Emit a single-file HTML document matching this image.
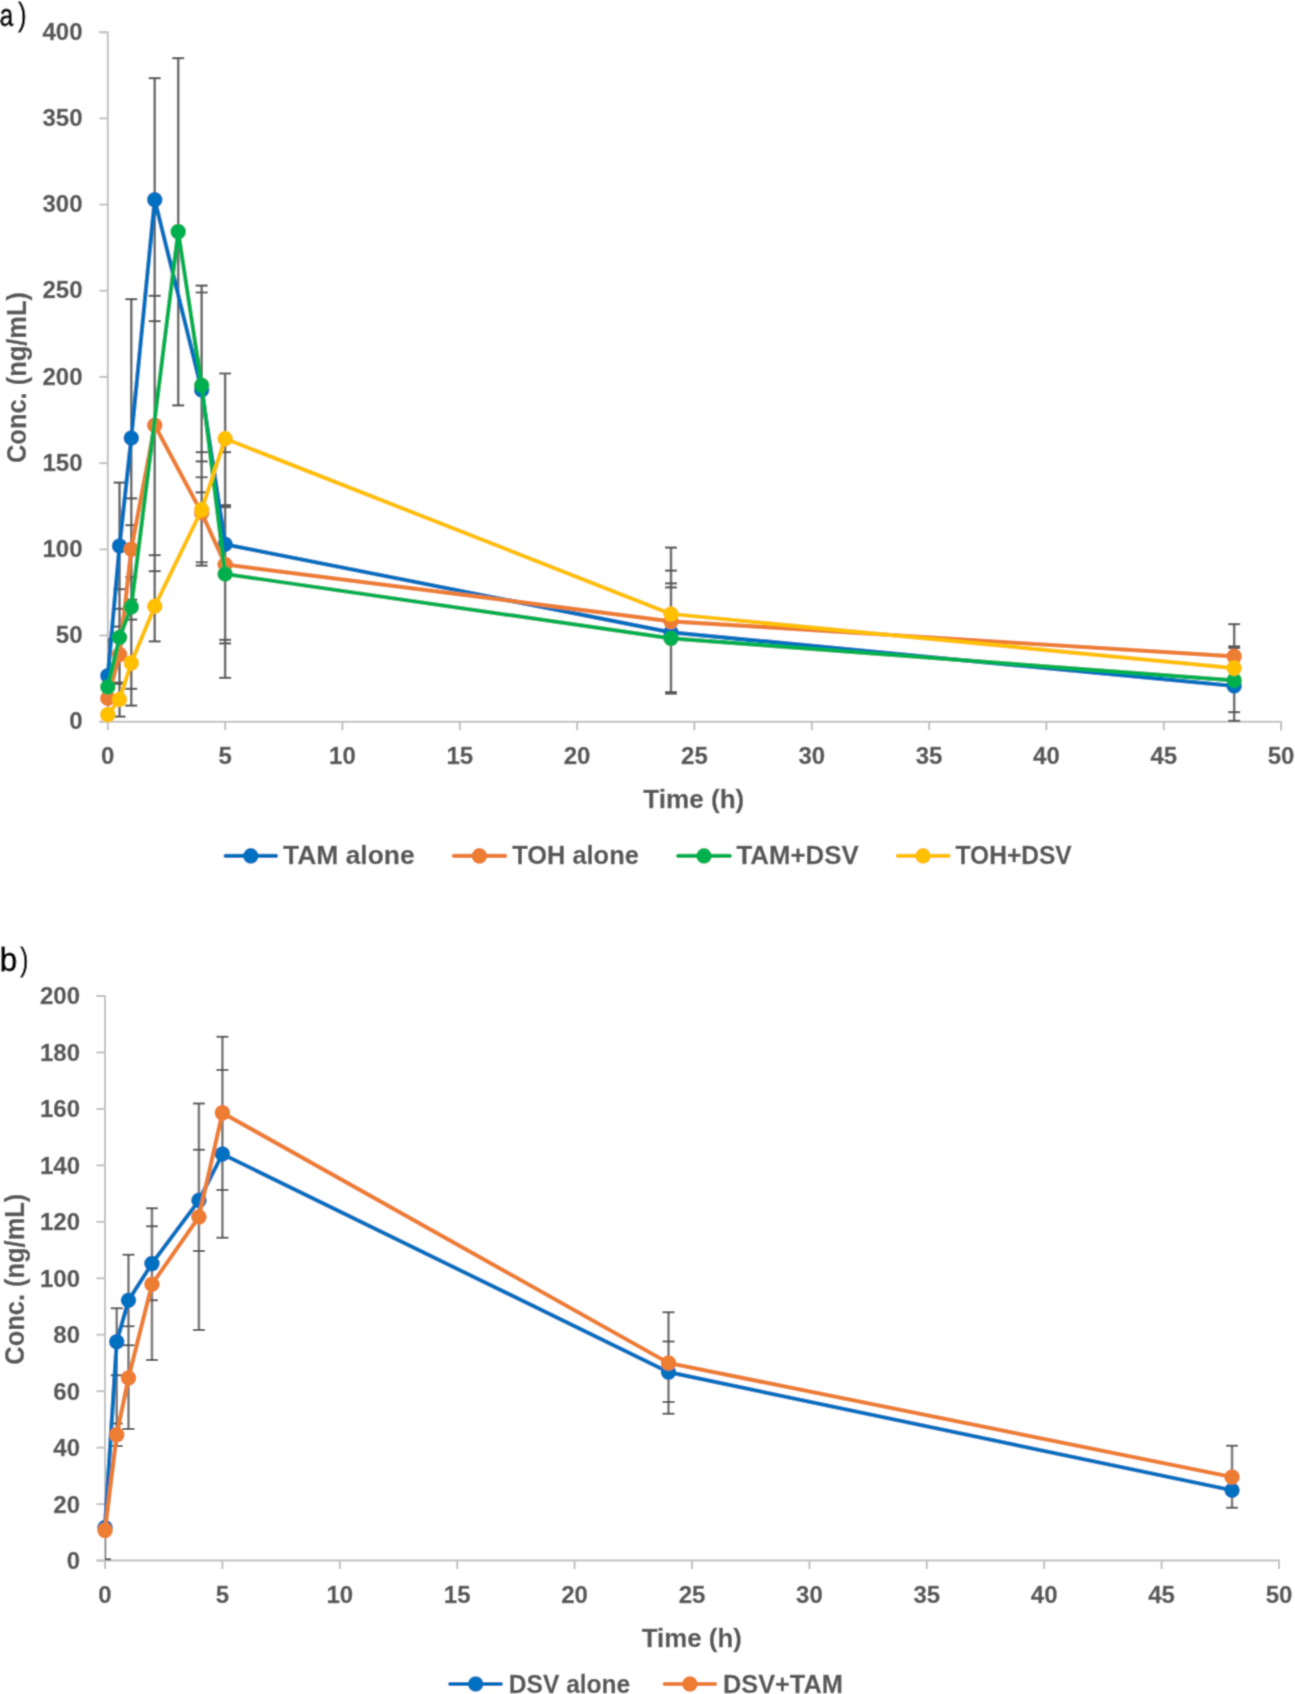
<!DOCTYPE html>
<html><head><meta charset="utf-8"><title>PK chart</title>
<style>
html,body{margin:0;padding:0;background:#fff;}
body{width:1295px;height:1694px;overflow:hidden;}
svg{display:block;}
.wrap{width:1295px;height:1694px;}
text{font-family:"Liberation Sans",sans-serif;}
.tk{font-size:24px;font-weight:bold;fill:#595959;stroke:#595959;stroke-width:0.35px;}
.at{font-size:26.5px;font-weight:bold;fill:#595959;stroke:#595959;stroke-width:0.3px;}
.lg{font-size:25px;font-weight:bold;fill:#595959;stroke:#595959;stroke-width:0.3px;}
.pl{font-size:33px;fill:#000;stroke:#000;stroke-width:0.9px;}
</style></head>
<body>
<div class="wrap">
<svg width="1295" height="1694" viewBox="0 0 1295 1694">
<defs>
<filter id="bl" x="0" y="0" width="1295" height="1694" filterUnits="userSpaceOnUse"><feConvolveMatrix order="3" kernelMatrix="0.0324 0.1152 0.0324 0.1152 0.4096 0.1152 0.0324 0.1152 0.0324" divisor="1" edgeMode="duplicate" preserveAlpha="true"/></filter>
<clipPath id="clipa"><rect x="107.8" y="0" width="1200" height="722.7"/></clipPath>
<clipPath id="clipb"><rect x="105.0" y="900" width="1200" height="661.5999999999999"/></clipPath>
</defs>
<g filter="url(#bl)">
<rect width="1295" height="1694" fill="#fff"/>
<text x="-0.3" y="26.2" class="pl" style="font-size:31px" textLength="13.4" lengthAdjust="spacingAndGlyphs">a</text>
<text x="18.3" y="24.7" class="pl" style="font-size:31.5px" textLength="8.3" lengthAdjust="spacingAndGlyphs">)</text>
<path d="M99.3 32.2H107.8V721.7" stroke="#C2C2C2" stroke-width="2" fill="none" stroke-linejoin="round"/>
<path d="M99.3 721.7H1281.1V730.2" stroke="#C2C2C2" stroke-width="2" fill="none" stroke-linejoin="round"/>
<path d="M99.3 721.7H107.8" stroke="#C2C2C2" stroke-width="2"/>
<text x="82.5" y="729.3" text-anchor="end" class="tk">0</text>
<path d="M99.3 635.51H107.8" stroke="#C2C2C2" stroke-width="2"/>
<text x="82.5" y="643.11" text-anchor="end" class="tk">50</text>
<path d="M99.3 549.33H107.8" stroke="#C2C2C2" stroke-width="2"/>
<text x="82.5" y="556.93" text-anchor="end" class="tk">100</text>
<path d="M99.3 463.14H107.8" stroke="#C2C2C2" stroke-width="2"/>
<text x="82.5" y="470.74" text-anchor="end" class="tk">150</text>
<path d="M99.3 376.95H107.8" stroke="#C2C2C2" stroke-width="2"/>
<text x="82.5" y="384.55" text-anchor="end" class="tk">200</text>
<path d="M99.3 290.76H107.8" stroke="#C2C2C2" stroke-width="2"/>
<text x="82.5" y="298.36" text-anchor="end" class="tk">250</text>
<path d="M99.3 204.58H107.8" stroke="#C2C2C2" stroke-width="2"/>
<text x="82.5" y="212.18" text-anchor="end" class="tk">300</text>
<path d="M99.3 118.39H107.8" stroke="#C2C2C2" stroke-width="2"/>
<text x="82.5" y="125.99" text-anchor="end" class="tk">350</text>
<path d="M99.3 32.2H107.8" stroke="#C2C2C2" stroke-width="2"/>
<text x="82.5" y="39.8" text-anchor="end" class="tk">400</text>
<path d="M107.8 721.7V730.2" stroke="#C2C2C2" stroke-width="2"/>
<text x="107.8" y="764.1" text-anchor="middle" class="tk">0</text>
<path d="M225.13 721.7V730.2" stroke="#C2C2C2" stroke-width="2"/>
<text x="225.13" y="764.1" text-anchor="middle" class="tk">5</text>
<path d="M342.46 721.7V730.2" stroke="#C2C2C2" stroke-width="2"/>
<text x="342.46" y="764.1" text-anchor="middle" class="tk">10</text>
<path d="M459.79 721.7V730.2" stroke="#C2C2C2" stroke-width="2"/>
<text x="459.79" y="764.1" text-anchor="middle" class="tk">15</text>
<path d="M577.12 721.7V730.2" stroke="#C2C2C2" stroke-width="2"/>
<text x="577.12" y="764.1" text-anchor="middle" class="tk">20</text>
<path d="M694.45 721.7V730.2" stroke="#C2C2C2" stroke-width="2"/>
<text x="694.45" y="764.1" text-anchor="middle" class="tk">25</text>
<path d="M811.78 721.7V730.2" stroke="#C2C2C2" stroke-width="2"/>
<text x="811.78" y="764.1" text-anchor="middle" class="tk">30</text>
<path d="M929.11 721.7V730.2" stroke="#C2C2C2" stroke-width="2"/>
<text x="929.11" y="764.1" text-anchor="middle" class="tk">35</text>
<path d="M1046.44 721.7V730.2" stroke="#C2C2C2" stroke-width="2"/>
<text x="1046.44" y="764.1" text-anchor="middle" class="tk">40</text>
<path d="M1163.77 721.7V730.2" stroke="#C2C2C2" stroke-width="2"/>
<text x="1163.77" y="764.1" text-anchor="middle" class="tk">45</text>
<path d="M1281.1 721.7V730.2" stroke="#C2C2C2" stroke-width="2"/>
<text x="1281.1" y="764.1" text-anchor="middle" class="tk">50</text>
<text x="693.8" y="807.6" class="at" text-anchor="middle" textLength="101" lengthAdjust="spacingAndGlyphs">Time (h)</text>
<text transform="translate(26.4 377.5) rotate(-90)" x="0" y="0" class="at" style="font-size:27.5px" text-anchor="middle" textLength="171" lengthAdjust="spacingAndGlyphs">Conc. (ng/mL)</text>
<g clip-path="url(#clipa)">
<path d="M107.8 711.87V639.3" stroke="#6C6C6C" stroke-width="2.6"/>
<path d="M101.8 639.3H113.8" stroke="#5A5A5A" stroke-width="2.2"/>
<path d="M101.8 711.87H113.8" stroke="#5A5A5A" stroke-width="2.2"/>
<path d="M119.53 716.53V482.62" stroke="#6C6C6C" stroke-width="2.6"/>
<path d="M113.53 482.62H125.53" stroke="#5A5A5A" stroke-width="2.2"/>
<path d="M113.53 589.14H125.53" stroke="#5A5A5A" stroke-width="2.2"/>
<path d="M113.53 608.97H125.53" stroke="#5A5A5A" stroke-width="2.2"/>
<path d="M113.53 626.55H125.53" stroke="#5A5A5A" stroke-width="2.2"/>
<path d="M113.53 682.57H125.53" stroke="#5A5A5A" stroke-width="2.2"/>
<path d="M113.53 683.95H125.53" stroke="#5A5A5A" stroke-width="2.2"/>
<path d="M113.53 716.53H125.53" stroke="#5A5A5A" stroke-width="2.2"/>
<path d="M131.27 705.67V299.21" stroke="#6C6C6C" stroke-width="2.6"/>
<path d="M125.27 299.21H137.27" stroke="#5A5A5A" stroke-width="2.2"/>
<path d="M125.27 498.47H137.27" stroke="#5A5A5A" stroke-width="2.2"/>
<path d="M125.27 525.19H137.27" stroke="#5A5A5A" stroke-width="2.2"/>
<path d="M125.27 577.08H137.27" stroke="#5A5A5A" stroke-width="2.2"/>
<path d="M125.27 599.66H137.27" stroke="#5A5A5A" stroke-width="2.2"/>
<path d="M125.27 619.65H137.27" stroke="#5A5A5A" stroke-width="2.2"/>
<path d="M125.27 688.95H137.27" stroke="#5A5A5A" stroke-width="2.2"/>
<path d="M125.27 705.67H137.27" stroke="#5A5A5A" stroke-width="2.2"/>
<path d="M154.73 641.37V78.22" stroke="#6C6C6C" stroke-width="2.6"/>
<path d="M148.73 78.22H160.73" stroke="#5A5A5A" stroke-width="2.2"/>
<path d="M148.73 295.93H160.73" stroke="#5A5A5A" stroke-width="2.2"/>
<path d="M148.73 321.1H160.73" stroke="#5A5A5A" stroke-width="2.2"/>
<path d="M148.73 555.19H160.73" stroke="#5A5A5A" stroke-width="2.2"/>
<path d="M148.73 571.04H160.73" stroke="#5A5A5A" stroke-width="2.2"/>
<path d="M148.73 641.37H160.73" stroke="#5A5A5A" stroke-width="2.2"/>
<path d="M178.2 405.39V58.06" stroke="#6C6C6C" stroke-width="2.6"/>
<path d="M172.2 58.06H184.2" stroke="#5A5A5A" stroke-width="2.2"/>
<path d="M172.2 405.39H184.2" stroke="#5A5A5A" stroke-width="2.2"/>
<path d="M201.66 565.53V285.59" stroke="#6C6C6C" stroke-width="2.6"/>
<path d="M195.66 285.59H207.66" stroke="#5A5A5A" stroke-width="2.2"/>
<path d="M195.66 292.49H207.66" stroke="#5A5A5A" stroke-width="2.2"/>
<path d="M195.66 452.11H207.66" stroke="#5A5A5A" stroke-width="2.2"/>
<path d="M195.66 461.41H207.66" stroke="#5A5A5A" stroke-width="2.2"/>
<path d="M195.66 477.27H207.66" stroke="#5A5A5A" stroke-width="2.2"/>
<path d="M195.66 492.44H207.66" stroke="#5A5A5A" stroke-width="2.2"/>
<path d="M195.66 562.25H207.66" stroke="#5A5A5A" stroke-width="2.2"/>
<path d="M195.66 565.53H207.66" stroke="#5A5A5A" stroke-width="2.2"/>
<path d="M225.13 677.92V373.5" stroke="#6C6C6C" stroke-width="2.6"/>
<path d="M219.13 373.5H231.13" stroke="#5A5A5A" stroke-width="2.2"/>
<path d="M219.13 452.11H231.13" stroke="#5A5A5A" stroke-width="2.2"/>
<path d="M219.13 505.02H231.13" stroke="#5A5A5A" stroke-width="2.2"/>
<path d="M219.13 507.09H231.13" stroke="#5A5A5A" stroke-width="2.2"/>
<path d="M219.13 639.82H231.13" stroke="#5A5A5A" stroke-width="2.2"/>
<path d="M219.13 643.44H231.13" stroke="#5A5A5A" stroke-width="2.2"/>
<path d="M219.13 677.92H231.13" stroke="#5A5A5A" stroke-width="2.2"/>
<path d="M670.98 693.6V547.6" stroke="#6C6C6C" stroke-width="2.6"/>
<path d="M664.98 547.6H676.98" stroke="#5A5A5A" stroke-width="2.2"/>
<path d="M664.98 570.7H676.98" stroke="#5A5A5A" stroke-width="2.2"/>
<path d="M664.98 583.28H676.98" stroke="#5A5A5A" stroke-width="2.2"/>
<path d="M664.98 587.42H676.98" stroke="#5A5A5A" stroke-width="2.2"/>
<path d="M664.98 692.05H676.98" stroke="#5A5A5A" stroke-width="2.2"/>
<path d="M664.98 693.6H676.98" stroke="#5A5A5A" stroke-width="2.2"/>
<path d="M1234.17 720.84V624.14" stroke="#6C6C6C" stroke-width="2.6"/>
<path d="M1228.17 624.14H1240.17" stroke="#5A5A5A" stroke-width="2.2"/>
<path d="M1228.17 646.37H1240.17" stroke="#5A5A5A" stroke-width="2.2"/>
<path d="M1228.17 647.92H1240.17" stroke="#5A5A5A" stroke-width="2.2"/>
<path d="M1228.17 712.05H1240.17" stroke="#5A5A5A" stroke-width="2.2"/>
<path d="M1228.17 720.84H1240.17" stroke="#5A5A5A" stroke-width="2.2"/>
</g>
<path d="M107.8 675.68 L119.53 546.05 L131.27 437.97 L154.73 199.75 L201.66 389.88 L225.13 544.33 L670.98 632.41 L1234.17 686.02" stroke="#0070C0" stroke-width="4.2" fill="none" stroke-linejoin="round" stroke-linecap="round"/>
<circle cx="107.8" cy="675.68" r="7.8" fill="#0070C0"/>
<circle cx="119.53" cy="546.05" r="7.8" fill="#0070C0"/>
<circle cx="131.27" cy="437.97" r="7.8" fill="#0070C0"/>
<circle cx="154.73" cy="199.75" r="7.8" fill="#0070C0"/>
<circle cx="201.66" cy="389.88" r="7.8" fill="#0070C0"/>
<circle cx="225.13" cy="544.33" r="7.8" fill="#0070C0"/>
<circle cx="670.98" cy="632.41" r="7.8" fill="#0070C0"/>
<circle cx="1234.17" cy="686.02" r="7.8" fill="#0070C0"/>
<path d="M107.8 698.26 L119.53 654.47 L131.27 549.33 L154.73 425.22 L201.66 512.78 L225.13 564.49 L670.98 621.38 L1234.17 656.37" stroke="#ED7D31" stroke-width="4.2" fill="none" stroke-linejoin="round" stroke-linecap="round"/>
<circle cx="107.8" cy="698.26" r="7.8" fill="#ED7D31"/>
<circle cx="119.53" cy="654.47" r="7.8" fill="#ED7D31"/>
<circle cx="131.27" cy="549.33" r="7.8" fill="#ED7D31"/>
<circle cx="154.73" cy="425.22" r="7.8" fill="#ED7D31"/>
<circle cx="201.66" cy="512.78" r="7.8" fill="#ED7D31"/>
<circle cx="225.13" cy="564.49" r="7.8" fill="#ED7D31"/>
<circle cx="670.98" cy="621.38" r="7.8" fill="#ED7D31"/>
<circle cx="1234.17" cy="656.37" r="7.8" fill="#ED7D31"/>
<path d="M107.8 687.05 L119.53 637.41 L131.27 606.9 L178.2 231.64 L201.66 385.22 L225.13 573.97 L670.98 638.44 L1234.17 680.33" stroke="#00B050" stroke-width="4.2" fill="none" stroke-linejoin="round" stroke-linecap="round"/>
<circle cx="107.8" cy="687.05" r="7.8" fill="#00B050"/>
<circle cx="119.53" cy="637.41" r="7.8" fill="#00B050"/>
<circle cx="131.27" cy="606.9" r="7.8" fill="#00B050"/>
<circle cx="178.2" cy="231.64" r="7.8" fill="#00B050"/>
<circle cx="201.66" cy="385.22" r="7.8" fill="#00B050"/>
<circle cx="225.13" cy="573.97" r="7.8" fill="#00B050"/>
<circle cx="670.98" cy="638.44" r="7.8" fill="#00B050"/>
<circle cx="1234.17" cy="680.33" r="7.8" fill="#00B050"/>
<path d="M107.8 714.63 L119.53 699.46 L131.27 662.92 L154.73 606.21 L201.66 509.85 L225.13 438.66 L670.98 613.97 L1234.17 668.09" stroke="#FFC000" stroke-width="4.2" fill="none" stroke-linejoin="round" stroke-linecap="round"/>
<circle cx="107.8" cy="714.63" r="7.8" fill="#FFC000"/>
<circle cx="119.53" cy="699.46" r="7.8" fill="#FFC000"/>
<circle cx="131.27" cy="662.92" r="7.8" fill="#FFC000"/>
<circle cx="154.73" cy="606.21" r="7.8" fill="#FFC000"/>
<circle cx="201.66" cy="509.85" r="7.8" fill="#FFC000"/>
<circle cx="225.13" cy="438.66" r="7.8" fill="#FFC000"/>
<circle cx="670.98" cy="613.97" r="7.8" fill="#FFC000"/>
<circle cx="1234.17" cy="668.09" r="7.8" fill="#FFC000"/>
<path d="M225.6 855.9H276" stroke="#0070C0" stroke-width="4.2" stroke-linecap="round"/>
<circle cx="250.8" cy="855.9" r="7.8" fill="#0070C0"/>
<text x="283" y="864.4" class="lg" textLength="131.7" lengthAdjust="spacingAndGlyphs">TAM alone</text>
<path d="M453.9 855.9H505.1" stroke="#ED7D31" stroke-width="4.2" stroke-linecap="round"/>
<circle cx="479.4" cy="855.9" r="7.8" fill="#ED7D31"/>
<text x="512.2" y="864.4" class="lg" textLength="126.6" lengthAdjust="spacingAndGlyphs">TOH alone</text>
<path d="M678.2 855.9H729.8" stroke="#00B050" stroke-width="4.2" stroke-linecap="round"/>
<circle cx="704" cy="855.9" r="7.8" fill="#00B050"/>
<text x="736.4" y="864.4" class="lg" textLength="122.3" lengthAdjust="spacingAndGlyphs">TAM+DSV</text>
<path d="M897.8 855.9H948.5" stroke="#FFC000" stroke-width="4.2" stroke-linecap="round"/>
<circle cx="923" cy="855.9" r="7.8" fill="#FFC000"/>
<text x="955.5" y="864.4" class="lg" textLength="116.2" lengthAdjust="spacingAndGlyphs">TOH+DSV</text>
<text x="-0.2" y="971" class="pl" textLength="17.5" lengthAdjust="spacingAndGlyphs">b</text>
<text x="20.6" y="969.5" class="pl" style="font-size:31.5px" textLength="7.8" lengthAdjust="spacingAndGlyphs">)</text>
<path d="M96.5 996H105V1560.6" stroke="#C2C2C2" stroke-width="2" fill="none" stroke-linejoin="round"/>
<path d="M96.5 1560.6H1279V1569.1" stroke="#C2C2C2" stroke-width="2" fill="none" stroke-linejoin="round"/>
<path d="M96.5 1560.6H105" stroke="#C2C2C2" stroke-width="2"/>
<text x="80" y="1569" text-anchor="end" class="tk">0</text>
<path d="M96.5 1504.14H105" stroke="#C2C2C2" stroke-width="2"/>
<text x="80" y="1512.54" text-anchor="end" class="tk">20</text>
<path d="M96.5 1447.68H105" stroke="#C2C2C2" stroke-width="2"/>
<text x="80" y="1456.08" text-anchor="end" class="tk">40</text>
<path d="M96.5 1391.22H105" stroke="#C2C2C2" stroke-width="2"/>
<text x="80" y="1399.62" text-anchor="end" class="tk">60</text>
<path d="M96.5 1334.76H105" stroke="#C2C2C2" stroke-width="2"/>
<text x="80" y="1343.16" text-anchor="end" class="tk">80</text>
<path d="M96.5 1278.3H105" stroke="#C2C2C2" stroke-width="2"/>
<text x="80" y="1286.7" text-anchor="end" class="tk">100</text>
<path d="M96.5 1221.84H105" stroke="#C2C2C2" stroke-width="2"/>
<text x="80" y="1230.24" text-anchor="end" class="tk">120</text>
<path d="M96.5 1165.38H105" stroke="#C2C2C2" stroke-width="2"/>
<text x="80" y="1173.78" text-anchor="end" class="tk">140</text>
<path d="M96.5 1108.92H105" stroke="#C2C2C2" stroke-width="2"/>
<text x="80" y="1117.32" text-anchor="end" class="tk">160</text>
<path d="M96.5 1052.46H105" stroke="#C2C2C2" stroke-width="2"/>
<text x="80" y="1060.86" text-anchor="end" class="tk">180</text>
<path d="M96.5 996H105" stroke="#C2C2C2" stroke-width="2"/>
<text x="80" y="1004.4" text-anchor="end" class="tk">200</text>
<path d="M105 1560.6V1569.1" stroke="#C2C2C2" stroke-width="2"/>
<text x="105" y="1603.2" text-anchor="middle" class="tk">0</text>
<path d="M222.4 1560.6V1569.1" stroke="#C2C2C2" stroke-width="2"/>
<text x="222.4" y="1603.2" text-anchor="middle" class="tk">5</text>
<path d="M339.8 1560.6V1569.1" stroke="#C2C2C2" stroke-width="2"/>
<text x="339.8" y="1603.2" text-anchor="middle" class="tk">10</text>
<path d="M457.2 1560.6V1569.1" stroke="#C2C2C2" stroke-width="2"/>
<text x="457.2" y="1603.2" text-anchor="middle" class="tk">15</text>
<path d="M574.6 1560.6V1569.1" stroke="#C2C2C2" stroke-width="2"/>
<text x="574.6" y="1603.2" text-anchor="middle" class="tk">20</text>
<path d="M692 1560.6V1569.1" stroke="#C2C2C2" stroke-width="2"/>
<text x="692" y="1603.2" text-anchor="middle" class="tk">25</text>
<path d="M809.4 1560.6V1569.1" stroke="#C2C2C2" stroke-width="2"/>
<text x="809.4" y="1603.2" text-anchor="middle" class="tk">30</text>
<path d="M926.8 1560.6V1569.1" stroke="#C2C2C2" stroke-width="2"/>
<text x="926.8" y="1603.2" text-anchor="middle" class="tk">35</text>
<path d="M1044.2 1560.6V1569.1" stroke="#C2C2C2" stroke-width="2"/>
<text x="1044.2" y="1603.2" text-anchor="middle" class="tk">40</text>
<path d="M1161.6 1560.6V1569.1" stroke="#C2C2C2" stroke-width="2"/>
<text x="1161.6" y="1603.2" text-anchor="middle" class="tk">45</text>
<path d="M1279 1560.6V1569.1" stroke="#C2C2C2" stroke-width="2"/>
<text x="1279" y="1603.2" text-anchor="middle" class="tk">50</text>
<text x="691.8" y="1646.6" class="at" text-anchor="middle" textLength="100" lengthAdjust="spacingAndGlyphs">Time (h)</text>
<text transform="translate(24.3 1279.2) rotate(-90)" x="0" y="0" class="at" style="font-size:27.5px" text-anchor="middle" textLength="171" lengthAdjust="spacingAndGlyphs">Conc. (ng/mL)</text>
<g clip-path="url(#clipb)">
<path d="M105 1559.19V1497.08" stroke="#7A7A7A" stroke-width="2.6"/>
<path d="M99 1497.08H111" stroke="#555555" stroke-width="2.0"/>
<path d="M99 1559.19H111" stroke="#555555" stroke-width="2.0"/>
<path d="M116.74 1445.99V1308.22" stroke="#7A7A7A" stroke-width="2.6"/>
<path d="M110.74 1308.22H122.74" stroke="#555555" stroke-width="2.0"/>
<path d="M110.74 1375.13H122.74" stroke="#555555" stroke-width="2.0"/>
<path d="M110.74 1423.4H122.74" stroke="#555555" stroke-width="2.0"/>
<path d="M110.74 1445.99H122.74" stroke="#555555" stroke-width="2.0"/>
<path d="M128.48 1429.05V1254.87" stroke="#7A7A7A" stroke-width="2.6"/>
<path d="M122.48 1254.87H134.48" stroke="#555555" stroke-width="2.0"/>
<path d="M122.48 1326.29H134.48" stroke="#555555" stroke-width="2.0"/>
<path d="M122.48 1345.21H134.48" stroke="#555555" stroke-width="2.0"/>
<path d="M122.48 1429.05H134.48" stroke="#555555" stroke-width="2.0"/>
<path d="M151.96 1359.88V1208.29" stroke="#7A7A7A" stroke-width="2.6"/>
<path d="M145.96 1208.29H157.96" stroke="#555555" stroke-width="2.0"/>
<path d="M145.96 1226.36H157.96" stroke="#555555" stroke-width="2.0"/>
<path d="M145.96 1300.32H157.96" stroke="#555555" stroke-width="2.0"/>
<path d="M145.96 1359.88H157.96" stroke="#555555" stroke-width="2.0"/>
<path d="M198.92 1329.96V1103.56" stroke="#7A7A7A" stroke-width="2.6"/>
<path d="M192.92 1103.56H204.92" stroke="#555555" stroke-width="2.0"/>
<path d="M192.92 1149.85H204.92" stroke="#555555" stroke-width="2.0"/>
<path d="M192.92 1250.92H204.92" stroke="#555555" stroke-width="2.0"/>
<path d="M192.92 1329.96H204.92" stroke="#555555" stroke-width="2.0"/>
<path d="M222.4 1237.65V1036.65" stroke="#7A7A7A" stroke-width="2.6"/>
<path d="M216.4 1036.65H228.4" stroke="#555555" stroke-width="2.0"/>
<path d="M216.4 1069.96H228.4" stroke="#555555" stroke-width="2.0"/>
<path d="M216.4 1189.94H228.4" stroke="#555555" stroke-width="2.0"/>
<path d="M216.4 1237.65H228.4" stroke="#555555" stroke-width="2.0"/>
<path d="M668.52 1413.8V1312.18" stroke="#7A7A7A" stroke-width="2.6"/>
<path d="M662.52 1312.18H674.52" stroke="#555555" stroke-width="2.0"/>
<path d="M662.52 1341.54H674.52" stroke="#555555" stroke-width="2.0"/>
<path d="M662.52 1401.95H674.52" stroke="#555555" stroke-width="2.0"/>
<path d="M662.52 1413.8H674.52" stroke="#555555" stroke-width="2.0"/>
<path d="M1232.04 1507.81V1445.7" stroke="#7A7A7A" stroke-width="2.6"/>
<path d="M1226.04 1445.7H1238.04" stroke="#555555" stroke-width="2.0"/>
<path d="M1226.04 1507.81H1238.04" stroke="#555555" stroke-width="2.0"/>
</g>
<path d="M105 1527.57 L116.74 1341.82 L128.48 1300.32 L151.96 1263.62 L198.92 1200.39 L222.4 1154.09 L668.52 1372.16 L1232.04 1490.31" stroke="#0070C0" stroke-width="4.2" fill="none" stroke-linejoin="round" stroke-linecap="round"/>
<circle cx="105" cy="1527.57" r="7.8" fill="#0070C0"/>
<circle cx="116.74" cy="1341.82" r="7.8" fill="#0070C0"/>
<circle cx="128.48" cy="1300.32" r="7.8" fill="#0070C0"/>
<circle cx="151.96" cy="1263.62" r="7.8" fill="#0070C0"/>
<circle cx="198.92" cy="1200.39" r="7.8" fill="#0070C0"/>
<circle cx="222.4" cy="1154.09" r="7.8" fill="#0070C0"/>
<circle cx="668.52" cy="1372.16" r="7.8" fill="#0070C0"/>
<circle cx="1232.04" cy="1490.31" r="7.8" fill="#0070C0"/>
<path d="M105 1530.39 L116.74 1434.69 L128.48 1377.95 L151.96 1284.23 L198.92 1217.04 L222.4 1112.87 L668.52 1362.99 L1232.04 1477.04" stroke="#ED7D31" stroke-width="4.2" fill="none" stroke-linejoin="round" stroke-linecap="round"/>
<circle cx="105" cy="1530.39" r="7.8" fill="#ED7D31"/>
<circle cx="116.74" cy="1434.69" r="7.8" fill="#ED7D31"/>
<circle cx="128.48" cy="1377.95" r="7.8" fill="#ED7D31"/>
<circle cx="151.96" cy="1284.23" r="7.8" fill="#ED7D31"/>
<circle cx="198.92" cy="1217.04" r="7.8" fill="#ED7D31"/>
<circle cx="222.4" cy="1112.87" r="7.8" fill="#ED7D31"/>
<circle cx="668.52" cy="1362.99" r="7.8" fill="#ED7D31"/>
<circle cx="1232.04" cy="1477.04" r="7.8" fill="#ED7D31"/>
<path d="M450.2 1684H500.9" stroke="#0070C0" stroke-width="4.2" stroke-linecap="round"/>
<circle cx="475.7" cy="1684" r="7.8" fill="#0070C0"/>
<text x="508.8" y="1692.5" class="lg" textLength="121.5" lengthAdjust="spacingAndGlyphs">DSV alone</text>
<path d="M664.7 1684H715.1" stroke="#ED7D31" stroke-width="4.2" stroke-linecap="round"/>
<circle cx="689.9" cy="1684" r="7.8" fill="#ED7D31"/>
<text x="723" y="1692.5" class="lg" textLength="119.8" lengthAdjust="spacingAndGlyphs">DSV+TAM</text>
</g>
</svg>
</div>
</body></html>
